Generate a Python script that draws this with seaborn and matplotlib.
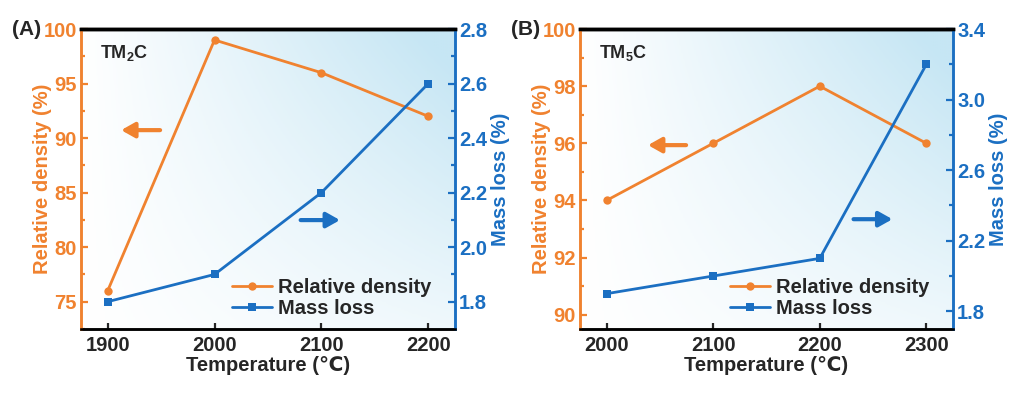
import numpy as np
import matplotlib
matplotlib.use('Agg')
import matplotlib.pyplot as plt
import seaborn as sns
from matplotlib.ticker import MultipleLocator, FixedLocator, FormatStrFormatter

# Data
temps_a = [1900, 2000, 2100, 2200]
density_a = [76, 99, 96, 92]
massloss_a = [1.8, 1.9, 2.2, 2.6]

temps_b = [2000, 2100, 2200, 2300]
density_b = [94, 96, 98, 96]
massloss_b = [1.9, 2.0, 2.1, 3.2]

panel_tags = ['(A)', '(B)']
sample_names = [r'TM$_\mathbf{2}$C', r'TM$_\mathbf{5}$C']
mass_ticks_a = [1.8, 2.0, 2.2, 2.4, 2.6, 2.8]
mass_ticks_b = [1.8, 2.2, 2.6, 3.0, 3.4]

orange = '#F0822F'
blue = '#1B6FC2'
fs = 14.5

sns.set_style('ticks')
plt.rcParams['font.family'] = ['Liberation Sans', 'DejaVu Sans']
plt.rcParams['font.weight'] = 'bold'
plt.rcParams['axes.labelweight'] = 'bold'
plt.rcParams['mathtext.fontset'] = 'custom'
plt.rcParams['mathtext.rm'] = 'Liberation Sans:bold'
plt.rcParams['mathtext.bf'] = 'Liberation Sans:bold'
plt.rcParams['mathtext.default'] = 'bf'

fig = plt.figure(figsize=(10.21, 3.93), dpi=100)
ax_a = fig.add_axes([0.0793, 0.163, 0.3663, 0.763])
ax_b = fig.add_axes([0.568, 0.163, 0.3654, 0.763])

# gradient backdrop (white bottom-left -> light blue top-right)
gx, gy = np.meshgrid(np.linspace(0, 1, 200), np.linspace(0, 1, 200))
grad = np.clip(gx * (0.25 + 0.75 * gy) * 1.1, 0, 1)
bg_cmap = matplotlib.colors.LinearSegmentedColormap.from_list('bg', ['#ffffff', '#c6e6f4'])

settings = [
    dict(ax=ax_a, t=temps_a, d=density_a, m=massloss_a, xlim=(1875, 2225),
         ylim=(72.5, 100), y2lim=(1.7, 2.8), ymaj=5, ymin=2.5,
         y2ticks=mass_ticks_a, y2step=0.1, xt=temps_a,
         arrow_o=((0.219, 0.663), (0.10, 0.663)), arrow_b=((0.58, 0.363), (0.70, 0.363))),
    dict(ax=ax_b, t=temps_b, d=density_b, m=massloss_b, xlim=(1975, 2325),
         ylim=(89.5, 100), y2lim=(1.7, 3.4), ymaj=2, ymin=1,
         y2ticks=mass_ticks_b, y2step=0.2, xt=temps_b,
         arrow_o=((0.292, 0.613), (0.175, 0.613)), arrow_b=((0.726, 0.366), (0.845, 0.366))),
]

for i, s in enumerate(settings):
    ax = s['ax']
    ax.imshow(grad, extent=[0, 1, 0, 1], transform=ax.transAxes, origin='lower',
              cmap=bg_cmap, aspect='auto', zorder=0)
    ax2 = ax.twinx()

    sns.lineplot(x=s['t'], y=s['d'], ax=ax, color=orange, marker='o', markersize=6,
                 markeredgewidth=0, linewidth=2.0, label='Relative density', legend=False)
    sns.lineplot(x=s['t'], y=s['m'], ax=ax2, color=blue, marker='s', markersize=6,
                 markeredgewidth=0, linewidth=2.0, label='Mass loss', legend=False)

    ax.set_xlim(*s['xlim'])
    ax.set_ylim(*s['ylim'])
    ax2.set_ylim(*s['y2lim'])
    ax.set_xticks(s['xt'])
    ax.yaxis.set_major_locator(MultipleLocator(s['ymaj']))
    ax.yaxis.set_minor_locator(MultipleLocator(s['ymin']))
    y2t = s['y2ticks']
    ax2.yaxis.set_major_locator(FixedLocator(y2t))
    ax2.yaxis.set_minor_locator(FixedLocator([v + s['y2step'] for v in y2t[:-1]]))
    ax2.yaxis.set_major_formatter(FormatStrFormatter('%.1f'))

    ax.set_xlabel('Temperature (\u2103)', fontsize=fs, labelpad=1)
    ax.set_ylabel('Relative density (%)', fontsize=fs, color=orange, labelpad=-6)
    ax2.set_ylabel('Mass loss (%)', fontsize=fs, color=blue, labelpad=3)

    for a in (ax, ax2):
        for sp in a.spines.values():
            sp.set_linewidth(1.8)
        a.spines['left'].set_color(orange)
        a.spines['right'].set_color(blue)
        a.spines['top'].set_color('black')
        a.spines['top'].set_linewidth(2.5)
        a.spines['bottom'].set_color('black')

    ax.tick_params(axis='x', which='both', direction='in', top=False, labelsize=fs,
                   width=1.6, length=4, pad=5)
    ax.tick_params(axis='y', which='both', direction='in', colors=orange, labelsize=fs,
                   width=1.6, pad=3)
    ax.tick_params(axis='y', which='major', length=5)
    ax.tick_params(axis='y', which='minor', length=3)
    ax2.tick_params(axis='y', which='both', direction='in', colors=blue, labelsize=fs,
                    width=1.6, pad=3)
    ax2.tick_params(axis='y', which='major', length=5)
    ax2.tick_params(axis='y', which='minor', length=3)
    for lbl in ax.get_xticklabels() + ax.get_yticklabels() + ax2.get_yticklabels():
        lbl.set_fontweight('bold')

    # direction arrows
    for (p0, p1), col in ((s['arrow_o'], orange), (s['arrow_b'], blue)):
        ax.annotate('', xy=p1, xytext=p0, xycoords='axes fraction',
                    arrowprops=dict(arrowstyle='-|>,head_width=0.45,head_length=0.8',
                                    color=col, lw=3), zorder=3)

    ax.text(0.05, 0.92, sample_names[i], transform=ax.transAxes, fontsize=13,
            fontweight='bold', va='center', ha='left')
    ax.text(-0.185, 1.0, panel_tags[i], transform=ax.transAxes, fontsize=15,
            fontweight='bold', va='center', ha='left')

    h1, l1 = ax.get_legend_handles_labels()
    h2, l2 = ax2.get_legend_handles_labels()
    ax2.legend(h1 + h2, l1 + l2, loc='lower right', bbox_to_anchor=(0.985, -0.025),
               frameon=False, handlelength=2.0, handletextpad=0.3,
               labelspacing=0.1, prop={'weight': 'bold', 'size': fs})

fig.savefig('out.png', dpi=100)
